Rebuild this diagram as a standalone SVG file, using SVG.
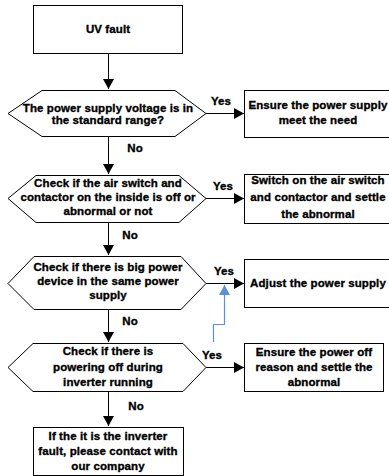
<svg xmlns="http://www.w3.org/2000/svg" width="389" height="476" viewBox="0 0 389 476">
<defs>
<style>
.shape{fill:#fff;stroke:#000;stroke-width:1}
.t{font-family:"Liberation Sans",Arial,sans-serif;font-weight:bold;font-size:11.5px;fill:#000;stroke:#000;stroke-width:0.35;text-anchor:middle;letter-spacing:0.1px}
.lbl{font-family:"Liberation Sans",Arial,sans-serif;font-weight:bold;font-size:11.5px;fill:#000;stroke:#000;stroke-width:0.35;text-anchor:middle;letter-spacing:0.1px}
.c{fill:none;stroke:#000;stroke-width:1}
.cb{fill:none;stroke:#5b8fd6;stroke-width:1.2}
</style>
<marker id="ah" viewBox="0 0 10 10" refX="10" refY="5" markerWidth="10" markerHeight="11" markerUnits="userSpaceOnUse" orient="auto" preserveAspectRatio="none">
<path d="M0,0 L10,5 L0,10 z" fill="#000"/>
</marker>
<marker id="ahb" viewBox="0 0 10 10" refX="10" refY="5" markerWidth="10" markerHeight="11" markerUnits="userSpaceOnUse" orient="auto" preserveAspectRatio="none">
<path d="M0,0 L10,5 L0,10 z" fill="#5b8fd6"/>
</marker>
</defs>
<rect width="389" height="476" fill="#fff"/>

<g id="connectors">
<path class="c" d="M108.5,53 V89" marker-end="url(#ah)"/>
<path class="c" d="M108.5,136 V174" marker-end="url(#ah)"/>
<path class="c" d="M108.5,222 V255" marker-end="url(#ah)"/>
<path class="c" d="M108.5,309 V342" marker-end="url(#ah)"/>
<path class="c" d="M108.5,391 V426" marker-end="url(#ah)"/>
<path class="c" d="M206,113.5 H244" marker-end="url(#ah)"/>
<path class="c" d="M206,198.5 H244" marker-end="url(#ah)"/>
<path class="c" d="M206,283.5 H244" marker-end="url(#ah)"/>
<path class="c" d="M206,367.5 H244" marker-end="url(#ah)"/>
<path class="cb" d="M213.5,342 V324.5 H224.5 V285" marker-end="url(#ahb)"/>
<text class="lbl" x="221" y="105">Yes</text>
<text class="lbl" x="223" y="190">Yes</text>
<text class="lbl" x="224" y="275">Yes</text>
<text class="lbl" x="212" y="359">Yes</text>
<text class="lbl" x="135" y="152">No</text>
<text class="lbl" x="130" y="239">No</text>
<text class="lbl" x="130" y="325">No</text>
<text class="lbl" x="136" y="410">No</text>
</g>

<g id="uv-fault">
<rect class="shape" x="33.5" y="5.5" width="149" height="48"/>
<text class="t" x="108" y="33">UV fault</text>
</g>

<g id="check-voltage">
<polygon class="shape" points="8,113.5 42,90.5 175,90.5 206,113.5 175,136.5 42,136.5"/>
<text class="t" x="108" y="112">The power supply voltage is in</text>
<text class="t" x="108" y="124">the standard range?</text>
</g>

<g id="ensure-supply">
<rect class="shape" x="244.5" y="90.5" width="149" height="47"/>
<text class="t" x="318" y="109">Ensure the power supply</text>
<text class="t" x="318" y="124">meet the need</text>
</g>

<g id="check-switch">
<polygon class="shape" points="8,198.5 36,175.5 179,175.5 206,198.5 179,222.5 36,222.5"/>
<text class="t" x="108" y="187">Check if the air switch and</text>
<text class="t" x="108" y="201">contactor on the inside is off or</text>
<text class="t" x="108" y="215">abnormal  or not</text>
</g>

<g id="switch-on">
<rect class="shape" x="244.5" y="174.5" width="149" height="49"/>
<text class="t" x="318" y="184">Switch on the air switch</text>
<text class="t" x="318" y="201">and contactor and settle</text>
<text class="t" x="318" y="218">the abnormal</text>
</g>

<g id="check-big-device">
<polygon class="shape" points="8,283.5 34,256.5 181,256.5 206,283.5 181,309.5 34,309.5"/>
<text class="t" x="108" y="271">Check if there is big power</text>
<text class="t" x="108" y="285">device in the same power</text>
<text class="t" x="108" y="299">supply</text>
</g>

<g id="adjust-supply">
<rect class="shape" x="244.5" y="259.5" width="149" height="48"/>
<text class="t" x="318" y="287">Adjust the power supply</text>
</g>

<g id="check-powering-off">
<polygon class="shape" points="8,367.5 33,343.5 183,343.5 206,367.5 183,391.5 33,391.5"/>
<text class="t" x="108" y="355">Check if there is</text>
<text class="t" x="108" y="371">powering off during</text>
<text class="t" x="108" y="386">inverter running</text>
</g>

<g id="ensure-power-off">
<rect class="shape" x="244.5" y="343.5" width="139" height="48"/>
<text class="t" x="314" y="356">Ensure the power off</text>
<text class="t" x="314" y="371">reason and settle the</text>
<text class="t" x="314" y="386">abnormal</text>
</g>

<g id="contact-company">
<rect class="shape" x="33.5" y="427.5" width="150" height="48"/>
<text class="t" x="108" y="440">If the it is the inverter</text>
<text class="t" x="108" y="455">fault, please contact with</text>
<text class="t" x="108" y="470">our company</text>
</g>
</svg>
